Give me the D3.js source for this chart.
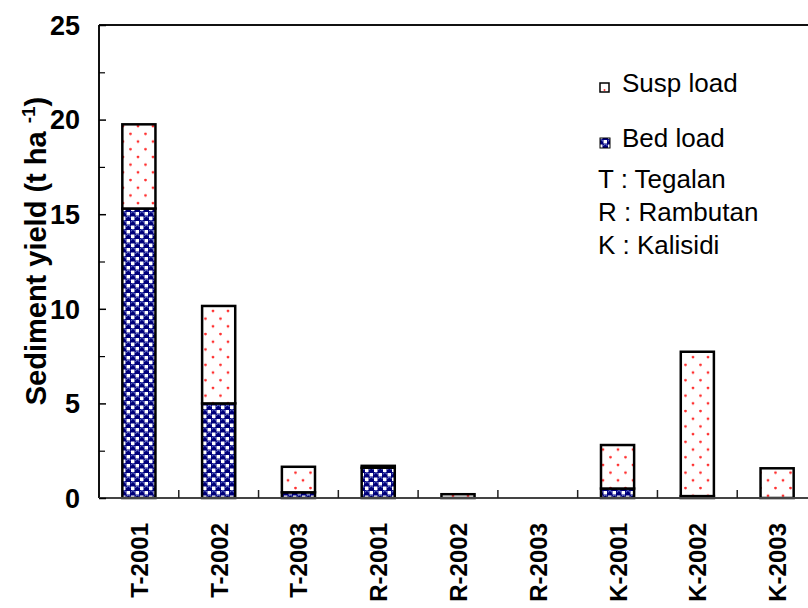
<!DOCTYPE html>
<html>
<head>
<meta charset="utf-8">
<script src="https://cdn.jsdelivr.net/npm/d3@7/dist/d3.min.js"></script>
<style>
  html, body { margin: 0; padding: 0; background: #fff; }
  svg { display: block; }
  text { font-family: "Liberation Sans", Arial, sans-serif; fill: #000; }
</style>
</head>
<body>
<svg id="chart" width="808" height="608"></svg>
<script>
// Sediment yield per site and year, split into bed load and suspended load (t/ha)
const categories = ["T-2001", "T-2002", "T-2003", "R-2001", "R-2002", "R-2003", "K-2001", "K-2002", "K-2003"];
const bedLoad  = [15.3, 5.0, 0.3, 1.6, 0, 0, 0.5, 0.1, 0];
const suspLoad = [4.45, 5.15, 1.35, 0.1, 0.2, 0, 2.3, 7.63, 1.57];
const yTicks = [0, 5, 10, 15, 20, 25];
const yMinorTicks = [2.5, 7.5, 12.5, 17.5, 22.5];
const legendSeries = ["Susp load", "Bed load"];
const siteNotes = ["T : Tegalan", "R : Rambutan", "K : Kalisidi"];

const svg = d3.select("#chart");
const plot = { left: 99, top: 25, right: 817, bottom: 498 };

const x = d3.scaleBand()
  .domain(categories)
  .range([plot.left, plot.right])
  .paddingInner(0.585)
  .paddingOuter(0.2925);

const y = d3.scaleLinear().domain([0, 25]).range([plot.bottom, plot.top]);

// Fill patterns
const defs = svg.append("defs");

const dots = defs.append("pattern")
  .attr("id", "suspPattern")
  .attr("patternUnits", "userSpaceOnUse")
  .attr("width", 15).attr("height", 15.4);
dots.append("rect").attr("width", 15).attr("height", 15.4).attr("fill", "#fff");
dots.append("circle").attr("cx", 3).attr("cy", 3).attr("r", 1.4).attr("fill", "#ff3030");
dots.append("circle").attr("cx", 10.5).attr("cy", 10.7).attr("r", 1.4).attr("fill", "#ff3030");

const beads = defs.append("pattern")
  .attr("id", "bedPattern")
  .attr("patternUnits", "userSpaceOnUse")
  .attr("width", 9).attr("height", 9);
beads.append("rect").attr("width", 9).attr("height", 9).attr("fill", "#00007a");
beads.append("rect").attr("x", 5).attr("y", 0.5).attr("width", 3.5).attr("height", 3.5).attr("fill", "#fff");
beads.append("rect").attr("x", 0.5).attr("y", 5).attr("width", 3.5).attr("height", 3.5).attr("fill", "#fff");
beads.append("path").attr("d", "M0.6,2 A1.8,1.8 0 0 1 4.2,2 M5.1,6.5 A1.8,1.8 0 0 1 8.7,6.5")
  .attr("fill", "none").attr("stroke", "#7380d4").attr("stroke-width", 0.9);

// Stacked bars: bed load at the bottom, suspended load on top
const rows = categories.map((c, i) => ({ cat: c, bed: bedLoad[i], susp: suspLoad[i] }));

const bars = svg.append("g");
rows.forEach(d => {
  if (d.bed > 0) {
    bars.append("rect")
      .attr("x", x(d.cat)).attr("width", x.bandwidth())
      .attr("y", y(d.bed)).attr("height", y(0) - y(d.bed))
      .attr("fill", "url(#bedPattern)")
      .attr("stroke", "#000").attr("stroke-width", 2.5);
  }
  if (d.susp > 0) {
    bars.append("rect")
      .attr("x", x(d.cat)).attr("width", x.bandwidth())
      .attr("y", y(d.bed + d.susp)).attr("height", y(d.bed) - y(d.bed + d.susp))
      .attr("fill", "url(#suspPattern)")
      .attr("stroke", "#000").attr("stroke-width", 2.5);
  }
});

// Plot frame
const frame = svg.append("g").attr("fill", "none");
frame.append("line").attr("x1", plot.left).attr("x2", plot.right + 10)
  .attr("y1", plot.top).attr("y2", plot.top).attr("stroke", "#111").attr("stroke-width", 2);
frame.append("line").attr("x1", plot.left).attr("x2", plot.left)
  .attr("y1", plot.top).attr("y2", plot.bottom).attr("stroke", "#111").attr("stroke-width", 2);
frame.append("line").attr("x1", plot.left).attr("x2", plot.right + 10)
  .attr("y1", plot.bottom).attr("y2", plot.bottom).attr("stroke", "#444").attr("stroke-width", 2);

// Y axis: ticks point inward, labels on the left
const yAxis = svg.append("g").attr("transform", `translate(${plot.left},0)`)
  .call(d3.axisRight(y).tickValues(yTicks).tickSize(7).tickFormat(""));
yAxis.select(".domain").remove();
yAxis.selectAll(".tick line").attr("stroke", "#000").attr("stroke-width", 1.5);

const yMinor = svg.append("g").attr("transform", `translate(${plot.left},0)`)
  .call(d3.axisRight(y).tickValues(yMinorTicks).tickSize(6).tickFormat(""));
yMinor.select(".domain").remove();
yMinor.selectAll(".tick line").attr("stroke", "#000").attr("stroke-width", 1.2);

svg.append("g").selectAll("text").data(yTicks).join("text")
  .attr("x", 80).attr("y", d => y(d))
  .attr("dy", "0.36em")
  .attr("text-anchor", "end")
  .style("font-size", "27px").style("font-weight", "bold")
  .text(d => d);

// X axis: inward ticks between categories, rotated bold labels
const boundaries = categories.slice(1).map(c => x(c) - x.step() * x.paddingInner() / 2);
svg.append("g").selectAll("line").data(boundaries).join("line")
  .attr("x1", d => d).attr("x2", d => d)
  .attr("y1", plot.bottom).attr("y2", plot.bottom - 8)
  .attr("stroke", "#222").attr("stroke-width", 1.5);

svg.append("g").selectAll("text").data(categories).join("text")
  .attr("transform", d => `translate(${x(d) + x.bandwidth() / 2 + 9},523) rotate(-90)`)
  .attr("text-anchor", "end")
  .style("font-size", "24px").style("font-weight", "bold")
  .text(d => d);

// Y axis title with superscript unit
const yTitle = svg.append("text")
  .attr("transform", "translate(46,251) rotate(-90)")
  .attr("text-anchor", "middle")
  .style("font-size", "29px").style("font-weight", "bold");
yTitle.append("tspan").text("Sediment yield (t ha ");
yTitle.append("tspan").attr("dy", -11).style("font-size", "19px").text("-1");
yTitle.append("tspan").attr("dy", 11).text(")");

// Legend
const legend = svg.append("g");
legend.append("rect").attr("x", 600).attr("y", 83).attr("width", 9).attr("height", 9)
  .attr("fill", "#fff").attr("stroke", "#000").attr("stroke-width", 1.5);
legend.append("circle").attr("cx", 604.5).attr("cy", 90).attr("r", 1).attr("fill", "#ff3030");
legend.append("rect").attr("x", 600).attr("y", 138).attr("width", 10).attr("height", 10)
  .attr("fill", "url(#bedPattern)").attr("stroke", "#000").attr("stroke-width", 1);

legend.selectAll("text.series").data(legendSeries).join("text")
  .attr("class", "series")
  .attr("x", 622).attr("y", (d, i) => 92 + i * 55)
  .style("font-size", "26px")
  .text(d => d);

legend.selectAll("text.note").data(siteNotes).join("text")
  .attr("class", "note")
  .attr("x", 598).attr("y", (d, i) => 188 + i * 33)
  .style("font-size", "26px")
  .text(d => d);
</script>
</body>
</html>
